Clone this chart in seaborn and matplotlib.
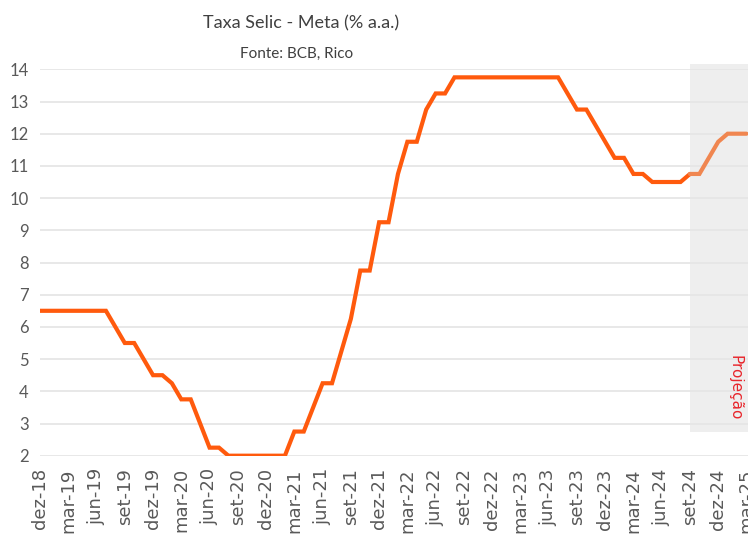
import numpy as np
import pandas as pd
import matplotlib
matplotlib.use("Agg")
import matplotlib.pyplot as plt
from matplotlib.patches import Rectangle
import seaborn as sns

# meses (dez-18 ate mar-25)
month_names = ["jan", "fev", "mar", "abr", "mai", "jun",
               "jul", "ago", "set", "out", "nov", "dez"]
months = ["dez-18"] + [m + "-" + str(y) for y in range(19, 25) for m in month_names] \
    + ["jan-25", "fev-25", "mar-25"]

# Selic meta observada (dez-18 .. set-24)
selic_hist = [6.5,
              6.5, 6.5, 6.5, 6.5, 6.5, 6.5, 6.5, 6.0, 5.5, 5.5, 5.0, 4.5,
              4.5, 4.25, 3.75, 3.75, 3.0, 2.25, 2.25, 2.0, 2.0, 2.0, 2.0, 2.0,
              2.0, 2.0, 2.75, 2.75, 3.5, 4.25, 4.25, 5.25, 6.25, 7.75, 7.75, 9.25,
              9.25, 10.75, 11.75, 11.75, 12.75, 13.25, 13.25, 13.75, 13.75, 13.75, 13.75, 13.75,
              13.75, 13.75, 13.75, 13.75, 13.75, 13.75, 13.75, 13.25, 12.75, 12.75, 12.25, 11.75,
              11.25, 11.25, 10.75, 10.75, 10.5, 10.5, 10.5, 10.5, 10.75]

# projecao (set-24 .. mar-25)
selic_proj = [10.75, 10.75, 11.25, 11.75, 12.0, 12.0, 12.0]

tick_every = 3
proj_start = len(selic_hist) - 1

hist = pd.DataFrame({"idx": np.arange(len(selic_hist)), "selic": selic_hist})
proj = pd.DataFrame({"idx": np.arange(proj_start, proj_start + len(selic_proj)),
                     "selic": selic_proj})

sns.set_theme(style="white")
plt.rcParams["font.family"] = ["Lato", "DejaVu Sans"]

W, H = 748, 535
fig = plt.figure(figsize=(W / 100, H / 100), dpi=100)
ax = fig.add_axes([40 / W, (H - 455.7) / H, 1 - 40 / W, (455.7 - 69.3) / H])

# area cinza da projecao
ax.add_patch(Rectangle((proj_start, 2.73), 8, 14.15 - 2.73, facecolor="#EEEEEE",
                       edgecolor="none", clip_on=False, zorder=0))

sns.lineplot(data=hist, x="idx", y="selic", ax=ax, color="#FF5A0D", lw=3.0,
             zorder=3, solid_joinstyle="miter")
sns.lineplot(data=proj, x="idx", y="selic", ax=ax, color="#F08650", lw=3.0,
             zorder=3, solid_joinstyle="miter")

ax.set_xlim(0, (W - 40) / 9.42)
ax.set_ylim(2, 14)
ax.set_yticks(range(2, 15))
ax.set_xticks(range(0, len(months), tick_every))
ax.set_xticklabels(months[::tick_every], rotation=90, fontsize=13,
                   color="#595959", family=["DejaVu Sans"])
ax.tick_params(axis="x", length=0, pad=9)
ax.tick_params(axis="y", length=0, pad=8, labelsize=12, labelcolor="#595959")
ax.grid(axis="y", color="#E6E6E6", lw=1.3)
ax.set_axisbelow(True)
for s in ax.spines.values():
    s.set_visible(False)
ax.set_xlabel("")
ax.set_ylabel("")

ax.text(73.8, 4.1, "Projeção", rotation=-90, ha="center", va="center",
        color="#E8262C", fontsize=11, family=["DejaVu Sans"])

fig.text(301 / W, 1 - 23 / H, "Taxa Selic - Meta (% a.a.)", ha="center", va="center",
         fontsize=13, color="#404040")
fig.text(297 / W, 1 - 54 / H, "Fonte: BCB, Rico", ha="center", va="center",
         fontsize=11, color="#404040")

fig.savefig("out.png", dpi=100)
